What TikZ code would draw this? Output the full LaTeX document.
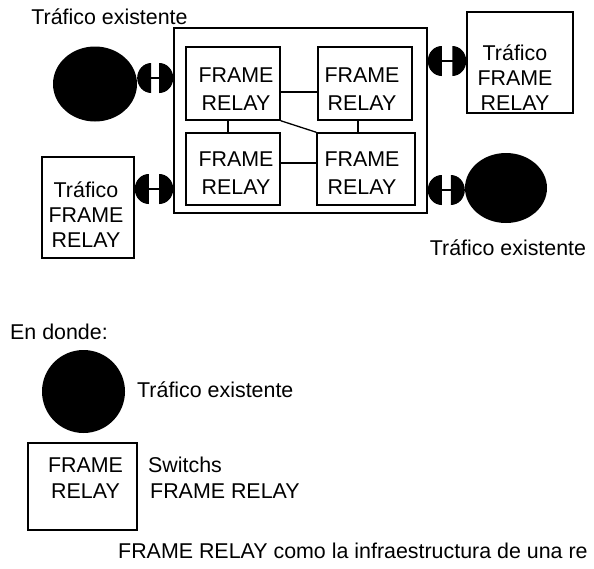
\documentclass[tikz,border=0pt]{standalone}
\usepackage{fontspec}
\setmainfont{Liberation Sans}
\usetikzlibrary{shapes.geometric}
\usetikzlibrary{decorations.markings}

\begin{document}
\begin{tikzpicture}[x=1pt, y=-1pt,
		every node/.style={inner sep=0pt, font=\fontsize{21.4}{28}\selectfont},
		caja/.style={draw, line width=1.5pt, rectangle},
		switch/.style={caja, minimum width=94pt, minimum height=73pt},
		trafico/.style={ellipse, fill=black},
		texto/.style={anchor=north, align=center},
		textotr/.style={anchor=north, align=center, font=\fontsize{21.4}{25}\selectfont},
		enlace/.style={line width=1.3pt},
		plug/.style={line width=1.6pt, postaction={decorate}, decoration={
				markings,
				mark=at position 0 with {\fill (14,15) arc (90:270:14 and 15) -- cycle;},
				mark=at position 0.9999 with {\fill (-14,-15) arc (270:450:14 and 15) -- cycle;}}}
	]
	\useasboundingbox (0,0) rectangle (594,568);
	\clip (0,0) rectangle (594,568);

	% red FRAME RELAY
	\node[caja, minimum width=253pt, minimum height=185pt] (net) at (300.5,120.5) {};
	\node[switch] (swA) at (233,83.5) {};
	\node[switch] (swB) at (365,83.5) {};
	\node[switch, minimum height=72pt] (swC) at (233,169) {};
	\node[switch, minimum width=98pt, minimum height=72pt] (swD) at (366,169) {};
	\node[texto] (swAt) at (236,68) {FRAME\\RELAY};
	\node[texto] (swBt) at (362,68) {FRAME\\RELAY};
	\node[texto] (swCt) at (236,152) {FRAME\\RELAY};
	\node[texto] (swDt) at (362,152) {FRAME\\RELAY};

	\draw[enlace] ([yshift=-8.5pt]swA.east) -- ([yshift=-8.5pt]swB.west);
	\draw[enlace] ([xshift=-5pt]swA.south) -- ([xshift=-5pt]swC.north);
	\draw[enlace] ([xshift=-7pt]swB.south) -- ([xshift=-7pt]swB.south |- swD.north);
	\draw[enlace] ([yshift=6pt]swC.east) -- ([yshift=6pt]swC.east -| swD.west);
	\draw[enlace] (swA.south east) -- (swD.north west);

	% trafico existente y trafico FRAME RELAY
	\node[trafico, minimum width=84pt, minimum height=75pt] (trafA) at (95,84) {};
	\node[trafico, minimum width=82pt, minimum height=70pt] (trafB) at (506,188) {};
	\node[caja, minimum width=92pt, minimum height=101pt] (frA) at (88,207.5) {};
	\node[caja, minimum width=106pt, minimum height=101pt] (frB) at (520,62.5) {};
	\node[textotr] (frAt) at (86,181.5) {Tráfico\\FRAME\\RELAY};
	\node[textotr] (frBt) at (515,44.5) {Tráfico\\FRAME\\RELAY};
	\node[anchor=base] (trafAt) at (109.5,24) {Tráfico existente};
	\node[anchor=base] (trafBt) at (508,255) {Tráfico existente};

	\draw[plug] ([yshift=6pt]trafA.east) -- ([yshift=6pt]trafA.east -| net.west);
	\draw[plug] ([yshift=18.5pt]frA.east) -- ([yshift=18.5pt]frA.east -| net.west);
	\draw[plug] ([yshift=1.5pt]frB.west -| net.east) -- ([yshift=1.5pt]frB.west);
	\draw[plug] ([yshift=-2pt]trafB.west -| net.east) -- ([yshift=-2pt]trafB.west);

	% leyenda
	\node[anchor=base west] (donde) at (10,339) {En donde:};
	\node[trafico, minimum width=83pt, minimum height=83pt] (legTraf) at (83.5,391.5) {};
	\node[anchor=base west] (legTrafT) at (137,397) {Tráfico existente};
	\node[caja, minimum width=109pt, minimum height=87pt] (legSw) at (82.5,486.5) {};
	\node[texto, font=\fontsize{21.4}{26}\selectfont] (legSwT) at (85.5,457.5) {FRAME\\RELAY};
	\node[anchor=north west, align=left, font=\fontsize{21.4}{26}\selectfont] (legSwD) at (148,457) {Switchs\\\hspace{2pt}FRAME RELAY};
	\node[anchor=base west] (pie) at (118,558) {FRAME RELAY como la infraestructura de una re};
\end{tikzpicture}
\end{document}
